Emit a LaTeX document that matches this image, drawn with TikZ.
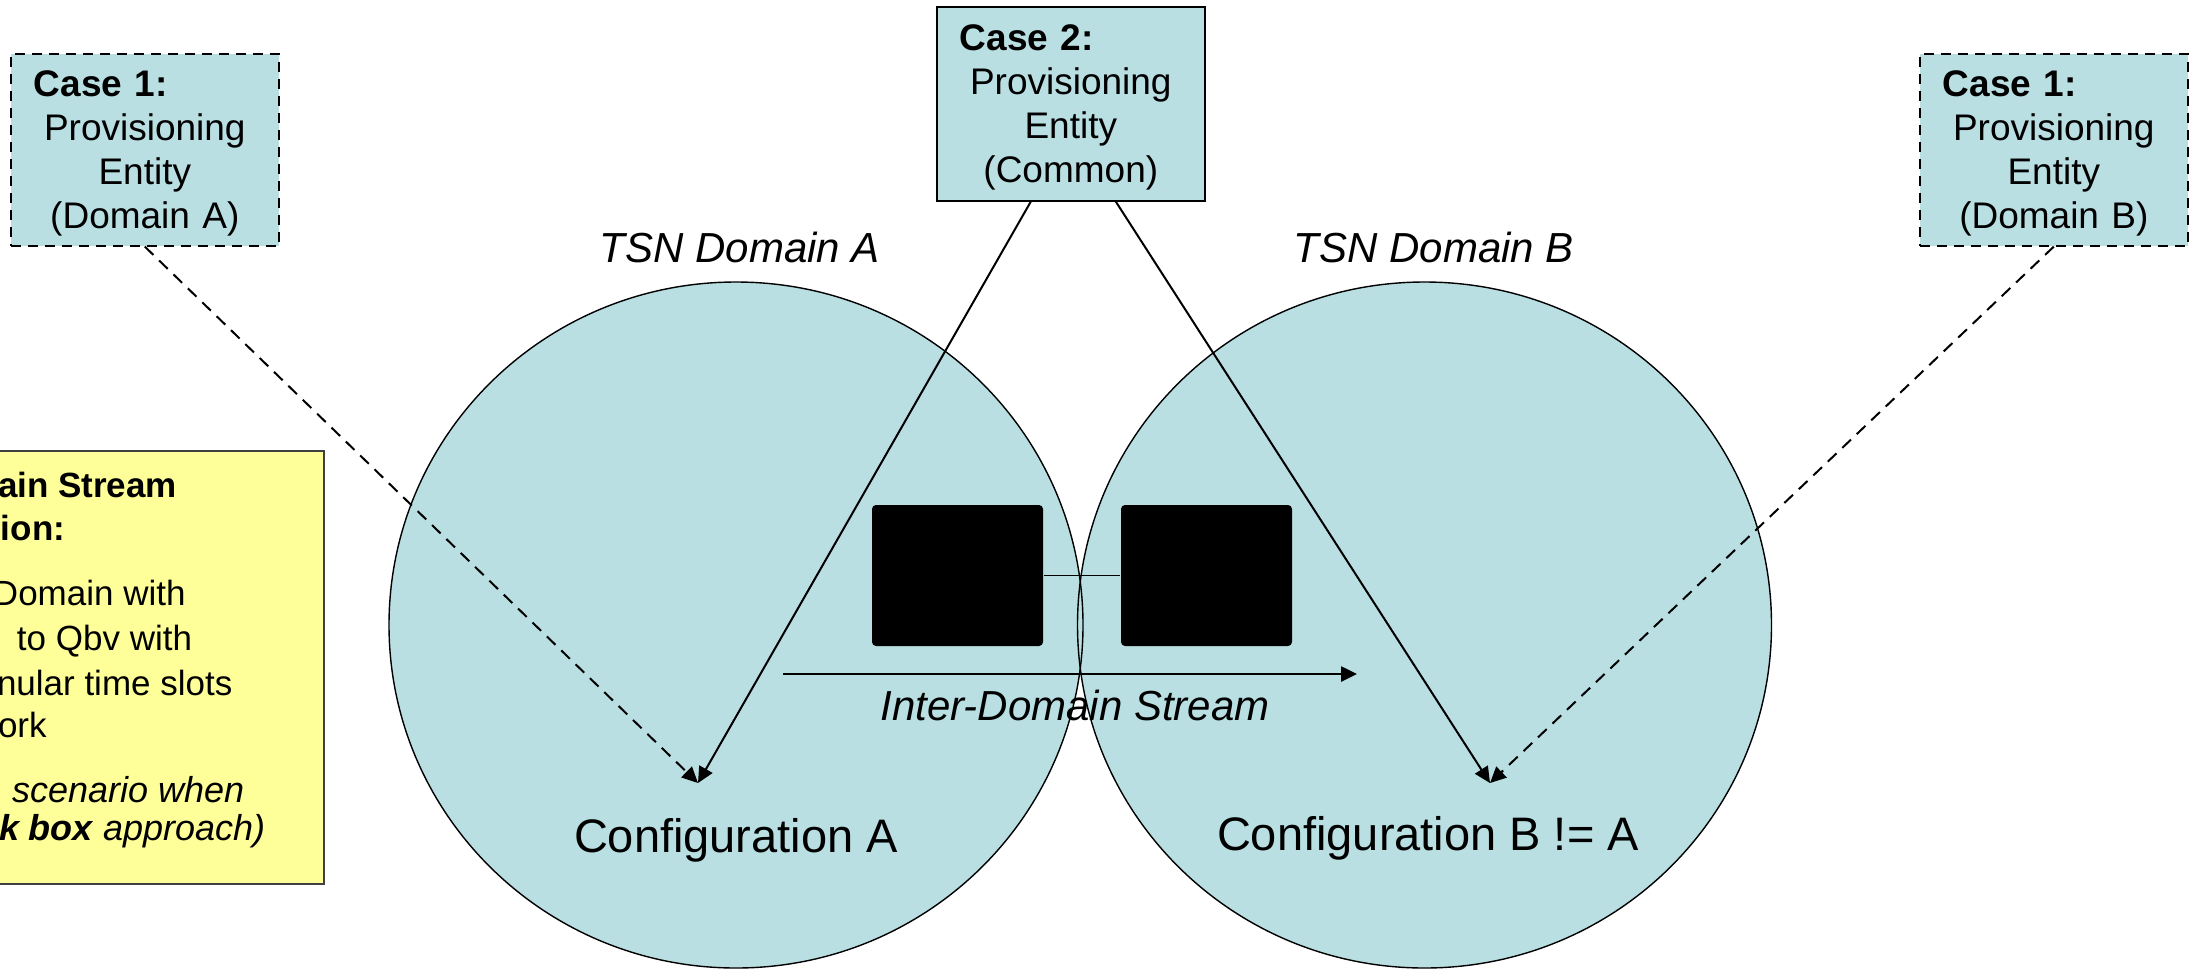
\documentclass[tikz,border=0pt]{standalone}
\usepackage{fontspec}
\setmainfont{Liberation Sans}
\usetikzlibrary{arrows.meta, positioning, calc, shapes.geometric}
\definecolor{cteal}{HTML}{B9DFE3}
\definecolor{cyellow}{HTML}{FFFF99}
\definecolor{cframe}{HTML}{404040}
\tikzset{
  every picture/.style={line width=1pt},
  tsndomain/.style={ellipse, fill=cteal, minimum width=347pt, minimum height=343pt, inner sep=0pt},
  provbox/.style={draw, fill=cteal, line width=0.8pt, minimum width=134pt, minimum height=96pt,
    text width=111pt, inner xsep=11.5pt, text height=17pt, align=center,
    font=\fontsize{18.5}{22}\selectfont, anchor=north west},
  provdash/.style={provbox, dash pattern=on 5pt off 3.5pt},
  switchbox/.style={fill=black, rounded corners=2pt, minimum width=85.5pt, minimum height=70.5pt, inner sep=0pt},
  conn/.style={-{Triangle[length=8pt, width=7.5pt]}, line width=1pt},
  dashconn/.style={conn, dash pattern=on 6pt off 4pt},
  domlabel/.style={font=\itshape\fontsize{21}{25}\selectfont, anchor=base, inner sep=0pt},
  cfglabel/.style={font=\fontsize{23.5}{28}\selectfont, anchor=base, inner sep=0pt},
  notebox/.style={draw=cframe, fill=cyellow, line width=0.9pt, anchor=north east, minimum width=260pt, minimum height=216.5pt},
  notetext/.style={anchor=base west, inner sep=0pt, font=\fontsize{17.5}{20}\selectfont},
}
\newcommand{\casehead}[1]{\makebox[111pt][l]{\textbf{#1}}}

\begin{document}
\begin{tikzpicture}[x=0.5pt, y=-0.5pt]
  \clip (0,0) rectangle (2189,970);
  % the two domains, outlines drawn after both fills
  \node[tsndomain] (domA) at (736,625) {};
  \node[tsndomain] (domB) at (1424.5,625) {};
  \foreach \d in {domA, domB}
    \draw[line width=0.7pt] (\d) ellipse[x radius=173.5pt, y radius=171.5pt];
  \node[domlabel] (labA) at (740,262) {TSN Domain A};
  \node[domlabel] (labB) at (1434,262) {TSN Domain B};
  \node[cfglabel] (cfgA) at (736,852) {Configuration A};
  \node[cfglabel] (cfgB) at (1428,850) {Configuration B != A};
  \coordinate (tipA) at (698,783);
  \coordinate (tipB) at (1490,783);

  % bridges at the domain border
  \node[switchbox] (sw1) at (957.5,575.5) {};
  \node[switchbox] (sw2) at (1206.5,575.5) {};
  \draw[line width=0.6pt] (sw1) -- (sw2);
  \coordinate (streamL) at (783,674);
  \coordinate (streamR) at (1357,674);
  \draw[conn, line width=1.3pt] (streamL) -- (streamR);
  \node[domlabel] (stream) at (1075,720) {Inter-Domain Stream};

  % provisioning entities
  \node[provdash] (boxA) at (10,53) {\casehead{Case 1:}\\Provisioning\\Entity\\(Domain A)};
  \node[provbox, minimum height=97pt] (boxC) at (936,6) {\casehead{Case 2:}\\Provisioning\\Entity\\(Common)};
  \node[provdash] (boxB) at (1919,53) {\casehead{Case 1:}\\Provisioning\\Entity\\(Domain B)};
  \draw[dashconn] (boxA.south) -- (tipA);
  \draw[conn] ([xshift=-20pt]boxC.south) -- (tipA);
  \draw[conn] ([xshift=22.5pt]boxC.south) -- (tipB);
  \draw[dashconn] (boxB.south) -- (tipB);

  % note on the left
  \node[notebox] (note) at (325,450) {};
  \foreach \y/\x/\t [count=\i] in {
      497/-3/{\textbf{ain Stream}},
      540/0/{\textbf{ion:}},
      605/-8/{Domain with},
      650/16/{to Qbv with},
      695/-4/{nular time slots},
      737/-3/{ork},
      802/11/{\fontsize{18}{20}\selectfont\itshape scenario when},
      840/-2/{\fontsize{18}{20}\selectfont\itshape\textbf{k box} approach)}}
    \node[notetext] (nt\i) at (\x,\y) {\t};
\end{tikzpicture}
\end{document}
